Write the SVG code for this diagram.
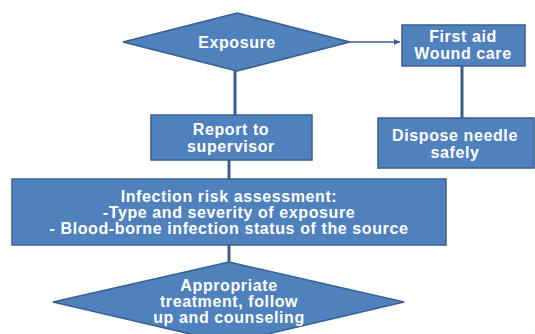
<svg xmlns="http://www.w3.org/2000/svg" width="535" height="334" viewBox="0 0 535 334">
<style>
.n{fill:#4F81BD;stroke:#3A5F8C;stroke-width:1.5}
.t{fill:#fff;font-family:"Liberation Sans",Arial,sans-serif;font-weight:bold;font-size:16px;letter-spacing:0.6px;text-anchor:middle}
.c{stroke:#3A5F8C;stroke-width:3;fill:none}
.a{stroke:#3A5F8C;stroke-width:1.5;fill:none}
</style>
<defs>
<marker id="ah" markerWidth="8" markerHeight="8" refX="6" refY="4" orient="auto" markerUnits="userSpaceOnUse">
<path d="M0,1 L6,4 L0,7 Z" fill="#3A5F8C"/>
</marker>
</defs>
<rect width="535" height="334" fill="#fff"/>
<g id="connectors">
<line class="a" x1="350" y1="42" x2="400" y2="42" marker-end="url(#ah)"/>
<line class="c" x1="235" y1="71" x2="235" y2="115"/>
<line class="c" x1="462" y1="66" x2="462" y2="118"/>
<line class="c" x1="229" y1="160" x2="229" y2="179"/>
<line class="c" x1="229" y1="245" x2="229" y2="262"/>
</g>
<g id="exposure">
<polygon class="n" points="237,13 350,42 237,71 123,42"/>
<text class="t" x="237" y="48">Exposure</text>
</g>
<g id="firstaid">
<rect class="n" x="402" y="25" width="123" height="41"/>
<text class="t" x="463" y="42">First aid</text>
<text class="t" x="463" y="59">Wound care</text>
</g>
<g id="report">
<rect class="n" x="151" y="115" width="161" height="45"/>
<text class="t" x="231" y="135">Report to</text>
<text class="t" x="231" y="152">supervisor</text>
</g>
<g id="dispose">
<rect class="n" x="378" y="118" width="156" height="50"/>
<text class="t" x="455" y="141">Dispose needle</text>
<text class="t" x="455" y="158">safely</text>
</g>
<g id="assessment">
<rect class="n" x="12" y="179" width="434" height="66"/>
<text class="t" x="229" y="202">Infection risk assessment:</text>
<text class="t" x="229" y="218">-Type and severity of exposure</text>
<text class="t" x="229" y="234">- Blood-borne infection status of the source</text>
</g>
<g id="treatment">
<polygon class="n" points="229,262 404,302 229,343 53,302"/>
<text class="t" x="229" y="291">Appropriate</text>
<text class="t" x="229" y="307">treatment, follow</text>
<text class="t" x="229" y="323">up and counseling</text>
</g>
</svg>
